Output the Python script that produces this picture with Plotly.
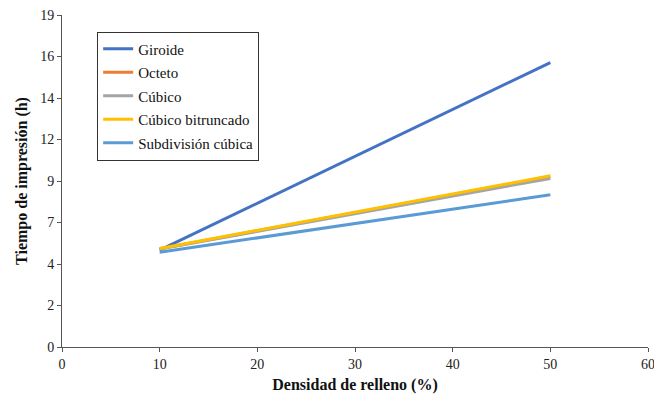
import plotly.graph_objects as go

densidad = [10, 50]
giroide = [5.6, 16.45]
octeto = [5.68, 9.85]
cubico = [5.66, 9.75]
cubico_bitruncado = [5.7, 9.9]
subdivision_cubica = [5.48, 8.8]

series = [
    ('Giroide', giroide, '#4472C4'),
    ('Octeto', octeto, '#ED7D31'),
    ('Cúbico', cubico, '#A5A5A5'),
    ('Cúbico bitruncado', cubico_bitruncado, '#FFC000'),
    ('Subdivisión cúbica', subdivision_cubica, '#5B9BD5'),
]

y_tickvals = [0, 2.4, 4.8, 7.2, 9.6, 12, 14.4, 16.8, 19.2]
y_ticktext = ['0', '2', '4', '7', '9', '12', '14', '16', '19']
x_tickvals = [0, 10, 20, 30, 40, 50, 60]

serif = 'Liberation Serif, Times New Roman, serif'

fig = go.Figure()
for name, vals, color in series:
    fig.add_trace(go.Scatter(x=densidad, y=vals, mode='lines', name=name,
                             legendgroup=name,
                             line=dict(color=color, width=3)))

fig.update_layout(
    width=654, height=397,
    margin=dict(l=62, r=6, t=15, b=50),
    plot_bgcolor='white', paper_bgcolor='white',
    font=dict(family=serif, size=14, color='#222'),
    legend=dict(x=0.06, y=0.95, xanchor='left', yanchor='top',
                bordercolor='#333', borderwidth=1, bgcolor='white',
                font=dict(family=serif, size=15, color='#111'),
                tracegroupgap=1, itemwidth=30, traceorder='grouped'),
    xaxis=dict(range=[0, 60], tickvals=x_tickvals, showgrid=False, zeroline=False,
               showline=True, linecolor='#555', linewidth=1,
               ticks='outside', ticklen=4, tickcolor='#555',
               ticklabeloverflow='allow',
               title=dict(text='<b>Densidad de relleno (%)</b>',
                          font=dict(family=serif, size=16, color='#111'),
                          standoff=8),
               automargin=False),
    yaxis=dict(range=[0, 19.2], tickvals=y_tickvals, ticktext=y_ticktext,
               showgrid=False, zeroline=False,
               showline=True, linecolor='#555', linewidth=1,
               ticks='outside', ticklen=4, tickcolor='#555',
               ticklabeloverflow='allow',
               title=dict(text='<b>Tiempo de impresión (h)</b>',
                          font=dict(family=serif, size=16, color='#111'),
                          standoff=8),
               automargin=False),
)

# drop the default page margin so the figure sits at the window's corner
fig.write_html("out.html", config={'displayModeBar': False},
               post_script="document.body.style.margin = '0';")
